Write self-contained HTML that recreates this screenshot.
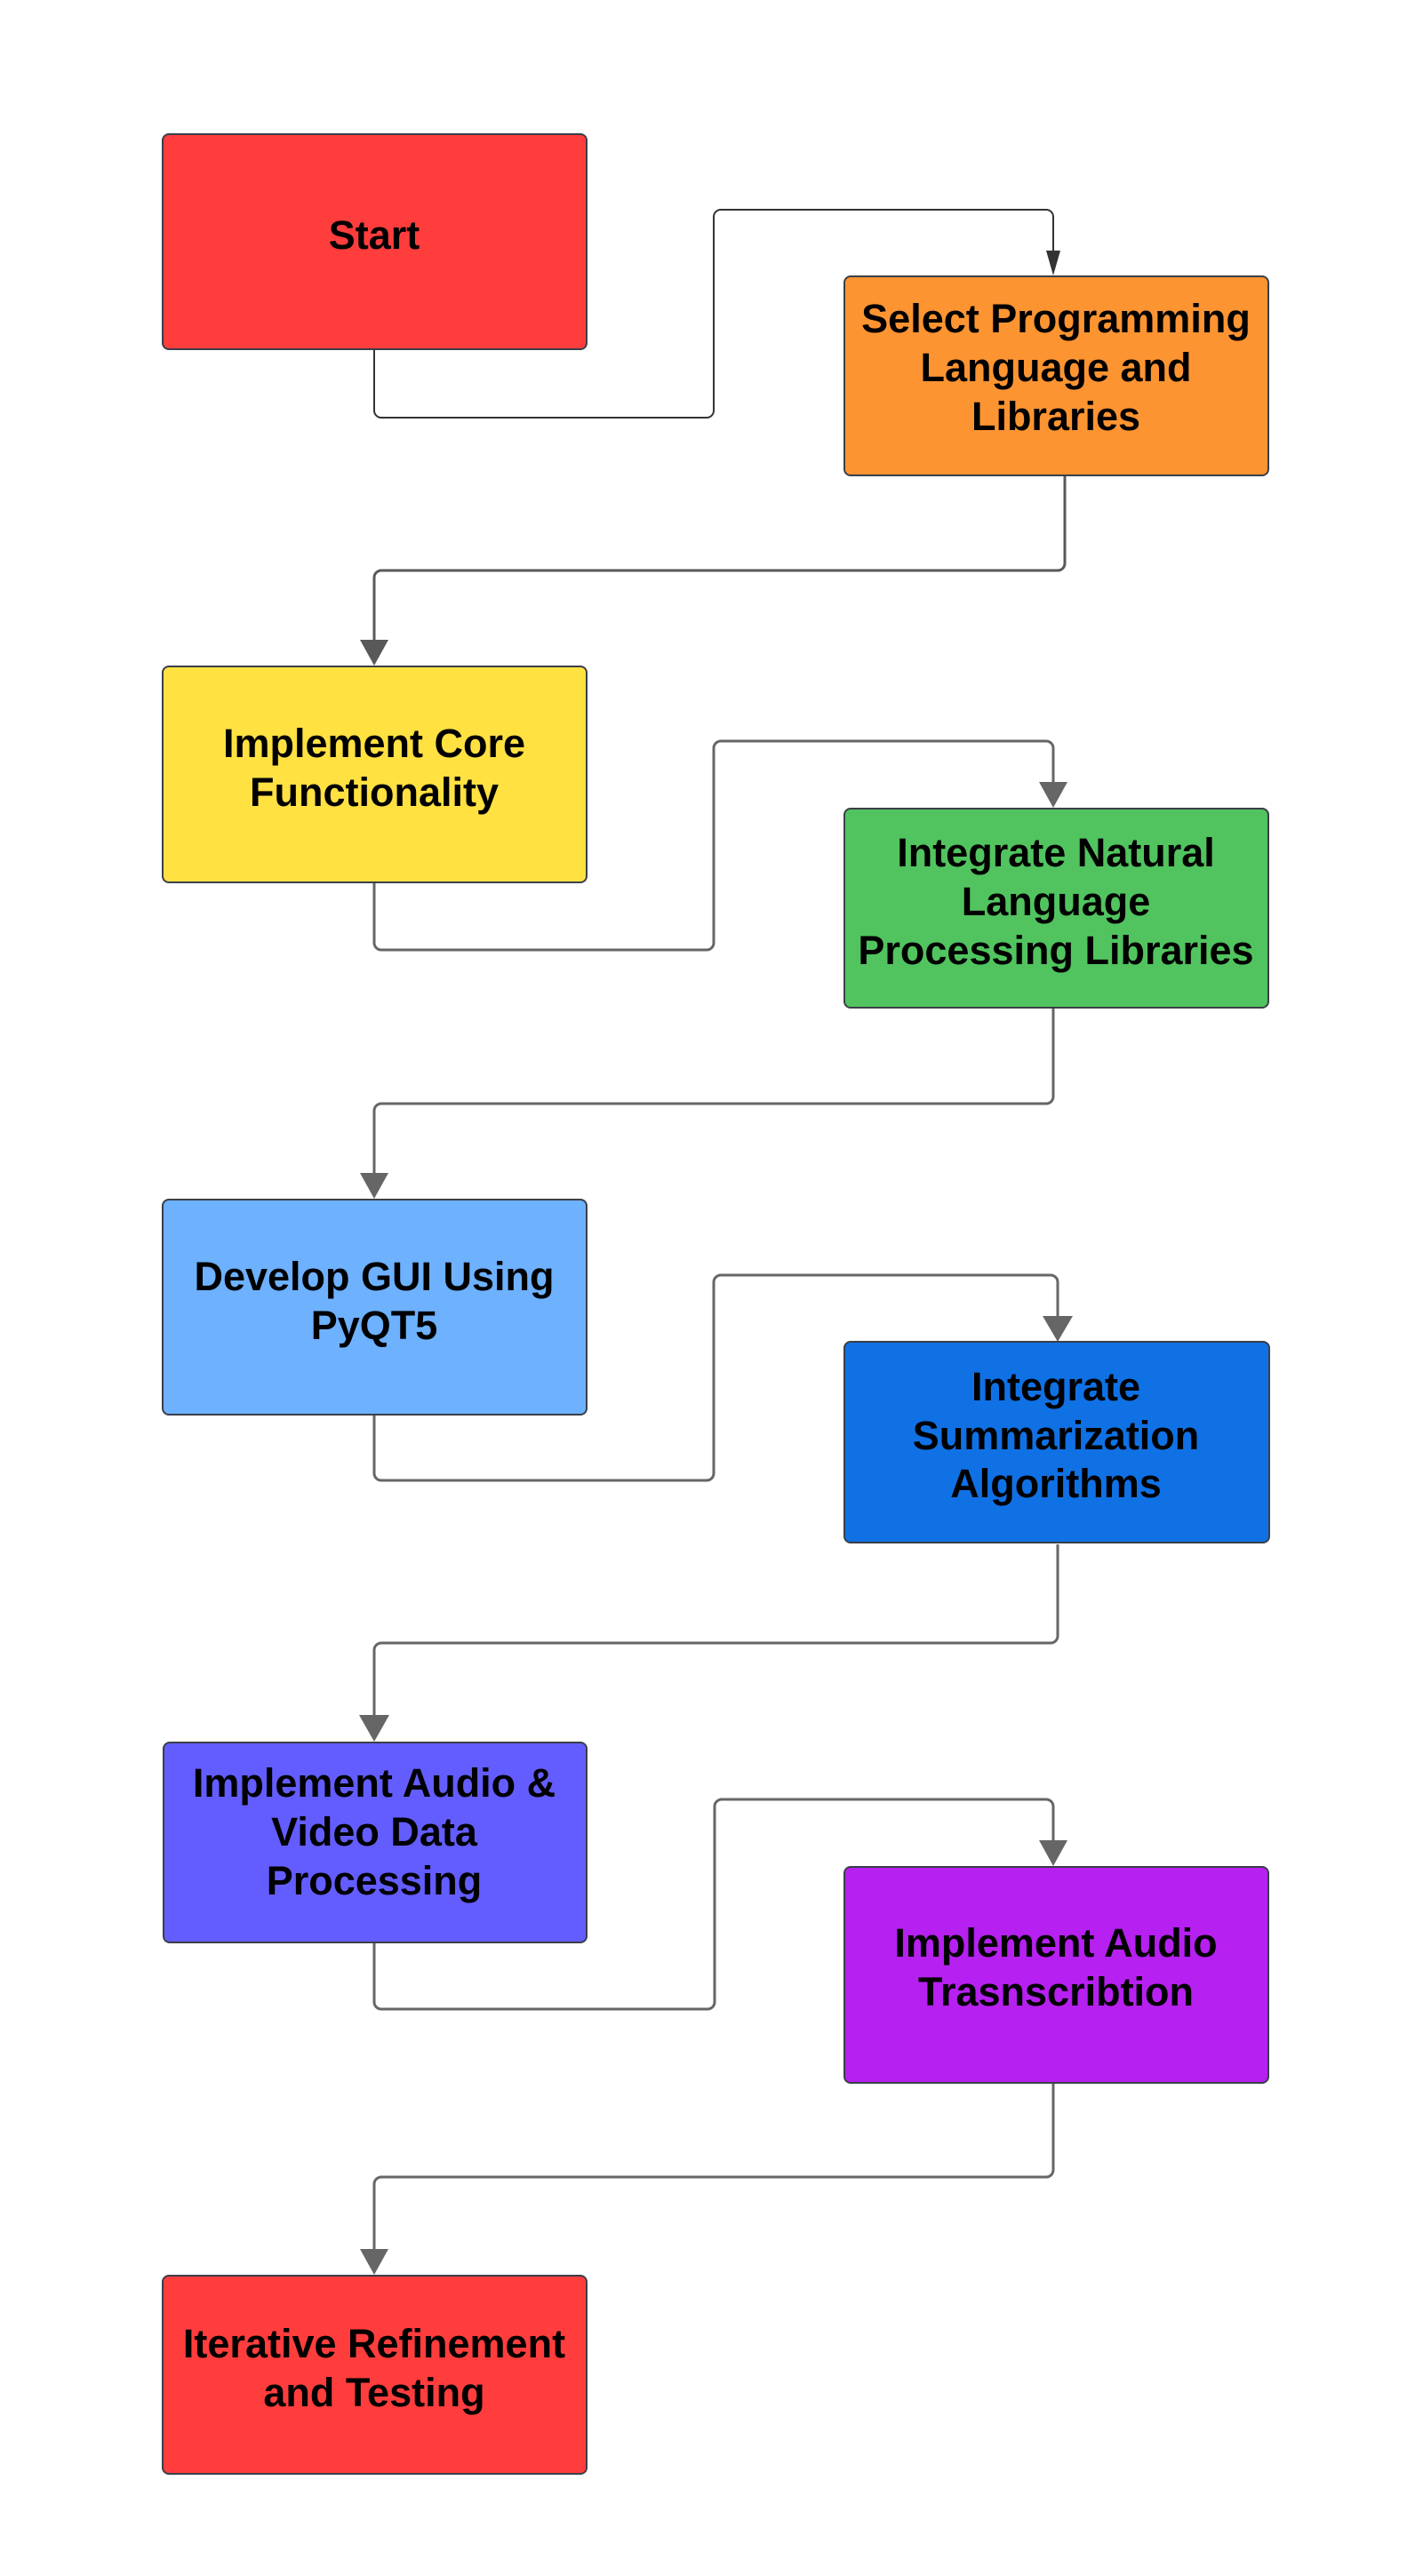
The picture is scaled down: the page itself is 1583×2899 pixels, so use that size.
<!DOCTYPE html>
<html><head><meta charset="utf-8"><style>
html,body{margin:0;padding:0;background:#fff;}
svg{display:block;}
text{font-family:"Liberation Sans",Arial,sans-serif;font-weight:bold;font-size:45px;fill:#000;text-anchor:middle;}
</style></head><body>
<svg width="1583" height="2899" viewBox="0 0 1583 2899" xmlns="http://www.w3.org/2000/svg">
<g fill="none" stroke-linejoin="round">
<path d="M421 393 V462 a8 8 0 0 0 8 8 H795 a8 8 0 0 0 8 -8 V244 a8 8 0 0 1 8 -8 H1177 a8 8 0 0 1 8 8 V285" stroke="#333" stroke-width="2"/>
<polygon points="1177,282 1193,282 1185,310" fill="#333"/>
<path d="M1198 535 V634 a8 8 0 0 1 -8 8 H429 a8 8 0 0 0 -8 8 V722" stroke="#595959" stroke-width="3"/>
<polygon points="405,720 437,720 421,749" fill="#595959"/>
<path d="M421 993 V1061 a8 8 0 0 0 8 8 H795 a8 8 0 0 0 8 -8 V842 a8 8 0 0 1 8 -8 H1177 a8 8 0 0 1 8 8 V882" stroke="#666" stroke-width="3"/>
<polygon points="1169,880 1201,880 1185,909" fill="#666"/>
<path d="M1185 1133 V1234 a8 8 0 0 1 -8 8 H429 a8 8 0 0 0 -8 8 V1322" stroke="#666" stroke-width="3"/>
<polygon points="405,1320 437,1320 421,1349" fill="#666"/>
<path d="M421 1590 V1658 a8 8 0 0 0 8 8 H795 a8 8 0 0 0 8 -8 V1443 a8 8 0 0 1 8 -8 H1182 a8 8 0 0 1 8 8 V1485" stroke="#666" stroke-width="3"/>
<polygon points="1173,1481 1207,1481 1190,1510" fill="#666"/>
<path d="M1190 1738 V1841 a8 8 0 0 1 -8 8 H429 a8 8 0 0 0 -8 8 V1932" stroke="#666" stroke-width="3"/>
<polygon points="404,1930 438,1930 421,1960" fill="#666"/>
<path d="M421 2186 V2253 a8 8 0 0 0 8 8 H796 a8 8 0 0 0 8 -8 V2033 a8 8 0 0 1 8 -8 H1177 a8 8 0 0 1 8 8 V2074" stroke="#666" stroke-width="3"/>
<polygon points="1169,2071 1201,2071 1185,2100" fill="#666"/>
<path d="M1185 2344 V2442 a8 8 0 0 1 -8 8 H429 a8 8 0 0 0 -8 8 V2533" stroke="#666" stroke-width="3"/>
<polygon points="405,2531 437,2531 421,2560" fill="#666"/>
</g>
<g stroke="#3a3f48" stroke-width="2">
<rect x="183" y="151" width="477" height="242" rx="7" fill="#FF3D3D"/>
<rect x="950" y="311" width="477" height="224" rx="7" fill="#FC9432"/>
<rect x="183" y="750" width="477" height="243" rx="7" fill="#FFE142"/>
<rect x="950" y="910" width="477" height="224" rx="7" fill="#51C45F"/>
<rect x="183" y="1350" width="477" height="242" rx="7" fill="#6DB1FF"/>
<rect x="950" y="1510" width="478" height="226" rx="7" fill="#1071E5"/>
<rect x="184" y="1961" width="476" height="225" rx="7" fill="#635DFF"/>
<rect x="950" y="2101" width="477" height="243" rx="7" fill="#B620F0"/>
<rect x="183" y="2561" width="477" height="223" rx="7" fill="#FF3D3D"/>
</g>
<text x="421" y="280">Start</text>
<text x="1188" y="374">Select Programming</text>
<text x="1188" y="429">Language and</text>
<text x="1188" y="484">Libraries</text>
<text x="421" y="852">Implement Core</text>
<text x="421" y="907">Functionality</text>
<text x="1188" y="975">Integrate Natural</text>
<text x="1188" y="1030">Language</text>
<text x="1188" y="1085">Processing Libraries</text>
<text x="421" y="1452">Develop GUI Using</text>
<text x="421" y="1507">PyQT5</text>
<text x="1188" y="1576">Integrate</text>
<text x="1188" y="1631">Summarization</text>
<text x="1188" y="1685">Algorithms</text>
<text x="421" y="2022">Implement Audio &amp;</text>
<text x="421" y="2077">Video Data</text>
<text x="421" y="2132">Processing</text>
<text x="1188" y="2202">Implement Audio</text>
<text x="1188" y="2257">Trasnscribtion</text>
<text x="421" y="2653">Iterative Refinement</text>
<text x="421" y="2708">and Testing</text>
</svg>
</body></html>
